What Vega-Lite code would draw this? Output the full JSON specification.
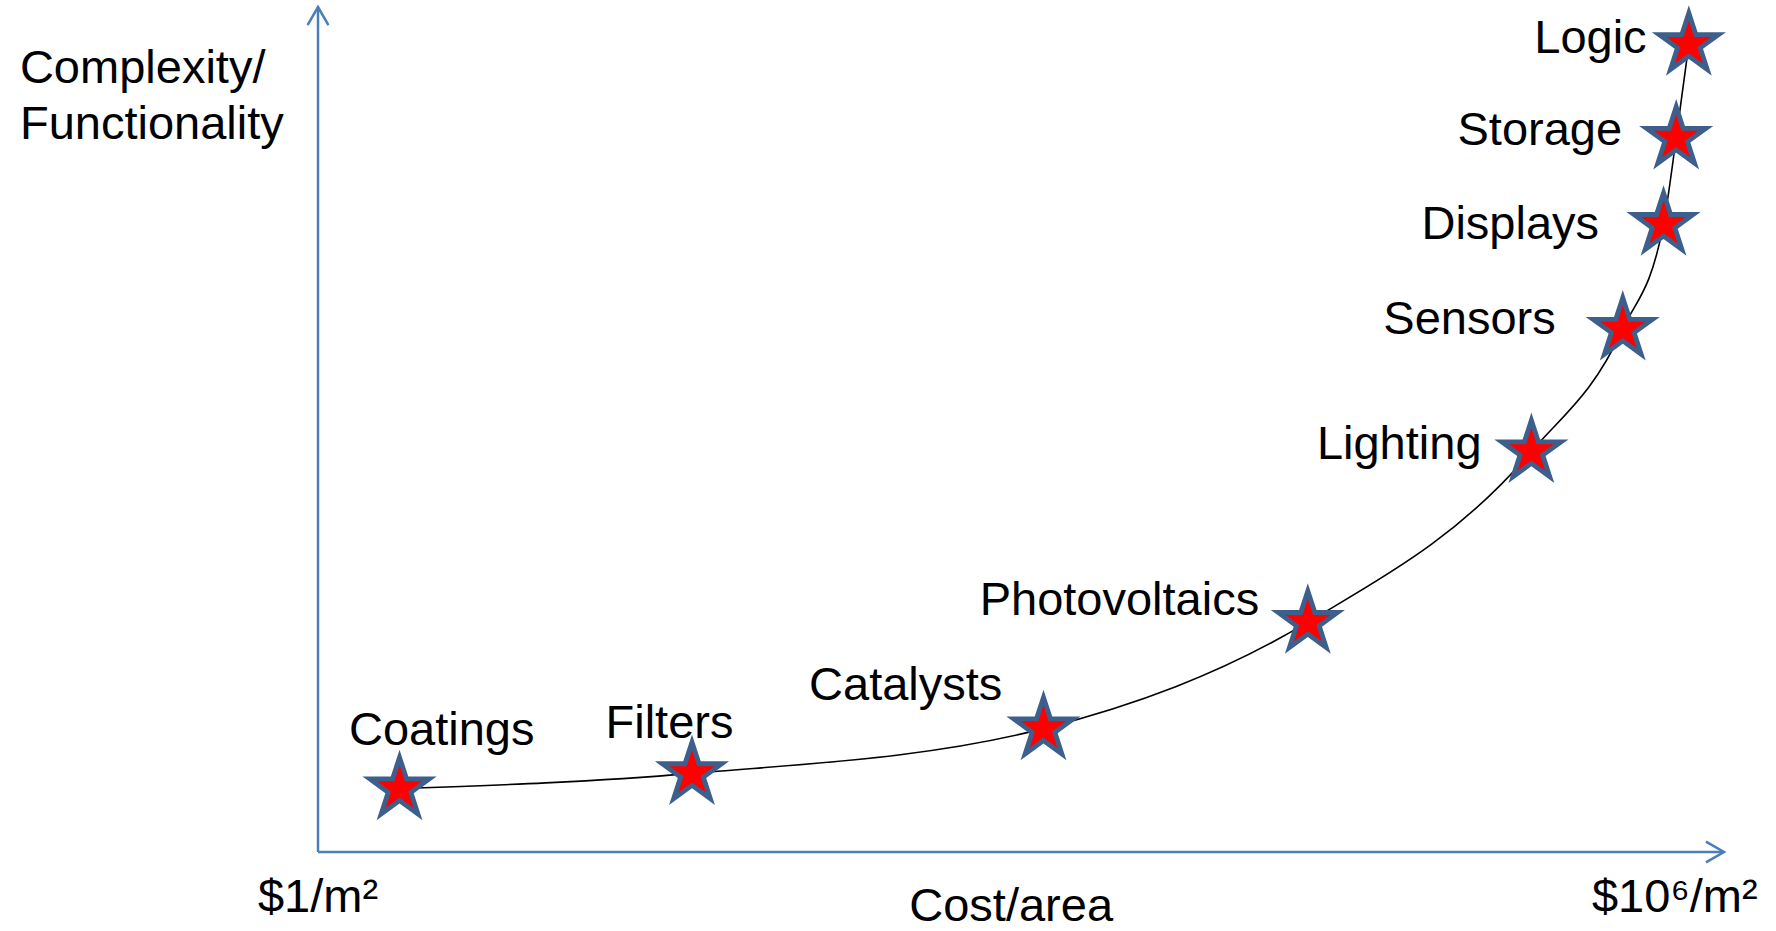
{
  "$schema": "https://vega.github.io/schema/vega-lite/v6.json",
  "width": 1776,
  "height": 931,
  "autosize": {"type": "none"},
  "padding": 0,
  "background": "white",
  "config": {
    "view": {"stroke": null},
    "text": {"font": "Liberation Sans", "fontSize": 47, "color": "#000000"}
  },
  "datasets": {
    "applications": [
      {"app": "Coatings", "cost": 5.8, "complexity": 7.5, "labelCost": 8.8, "labelComplexity": 12.7},
      {"app": "Filters", "cost": 26.6, "complexity": 9.3, "labelCost": 25.0, "labelComplexity": 13.5},
      {"app": "Catalysts", "cost": 51.6, "complexity": 14.6, "labelCost": 41.8, "labelComplexity": 18.0},
      {"app": "Photovoltaics", "cost": 70.4, "complexity": 27.2, "labelCost": 57.0, "labelComplexity": 28.0},
      {"app": "Lighting", "cost": 86.3, "complexity": 47.4, "labelCost": 76.9, "labelComplexity": 46.5},
      {"app": "Sensors", "cost": 92.8, "complexity": 61.9, "labelCost": 81.9, "labelComplexity": 61.3},
      {"app": "Displays", "cost": 95.7, "complexity": 74.3, "labelCost": 84.8, "labelComplexity": 72.5},
      {"app": "Storage", "cost": 96.6, "complexity": 84.5, "labelCost": 86.9, "labelComplexity": 83.7},
      {"app": "Logic", "cost": 97.5, "complexity": 95.6, "labelCost": 90.5, "labelComplexity": 94.6}
    ],
    "axes": [
      {"axis": "cost", "x": 0, "y": 0, "x2": 100, "y2": 0},
      {"axis": "complexity", "x": 0, "y": 0, "x2": 0, "y2": 100}
    ],
    "captions": [
      {"text": "$1/m²", "x": 0, "y": -7.1},
      {"text": "Cost/area", "x": 49.3, "y": -8.2},
      {"text": "$10⁶/m²", "x": 96.5, "y": -7.1}
    ],
    "yTitle": [
      {"text": "Complexity/", "x": -21.2, "y": 91.0},
      {"text": "Functionality", "x": -21.2, "y": 84.4}
    ]
  },
  "layer": [
    {
      "data": {"name": "axes"},
      "mark": {"type": "rule", "stroke": "#4A7EBB", "strokeWidth": 2.5},
      "encoding": {
        "x": {"field": "x", "type": "quantitative", "scale": {"domain": [0, 100], "range": [318, 1724], "nice": false, "zero": false}, "axis": null},
        "y": {"field": "y", "type": "quantitative", "scale": {"domain": [0, 100], "range": [852, 7], "nice": false, "zero": false}, "axis": null},
        "x2": {"field": "x2"},
        "y2": {"field": "y2"}
      }
    },
    {
      "data": {"name": "axes"},
      "mark": {"type": "point", "filled": false, "stroke": "#4A7EBB", "strokeWidth": 2.5, "size": 1444, "opacity": 1},
      "encoding": {
        "x": {"field": "x2", "type": "quantitative"},
        "y": {"field": "y2", "type": "quantitative"},
        "shape": {
          "field": "axis",
          "type": "nominal",
          "scale": {"domain": ["cost", "complexity"], "range": ["M-0.95,-0.55L0,0L-0.95,0.55", "M-0.55,0.95L0,0L0.55,0.95"]},
          "legend": null
        }
      }
    },
    {
      "data": {"name": "applications"},
      "mark": {"type": "line", "stroke": "#000000", "strokeWidth": 1.6, "interpolate": "monotone"},
      "encoding": {
        "x": {"field": "cost", "type": "quantitative"},
        "y": {"field": "complexity", "type": "quantitative"},
        "order": {"field": "cost"}
      }
    },
    {
      "data": {"name": "applications"},
      "mark": {
        "type": "point",
        "filled": true,
        "fill": "#3D5F8B",
        "opacity": 1,
        "size": 6084,
        "shape": "M0,-1L0.2245,-0.309L0.9511,-0.309L0.3633,0.118L0.5878,0.809L0,0.382L-0.5878,0.809L-0.3633,0.118L-0.9511,-0.309L-0.2245,-0.309Z"
      },
      "encoding": {
        "x": {"field": "cost", "type": "quantitative"},
        "y": {"field": "complexity", "type": "quantitative"}
      }
    },
    {
      "data": {"name": "applications"},
      "mark": {
        "type": "point",
        "filled": true,
        "fill": "#FF0000",
        "opacity": 1,
        "size": 2209,
        "shape": "M0,-1L0.2245,-0.309L0.9511,-0.309L0.3633,0.118L0.5878,0.809L0,0.382L-0.5878,0.809L-0.3633,0.118L-0.9511,-0.309L-0.2245,-0.309Z"
      },
      "encoding": {
        "x": {"field": "cost", "type": "quantitative"},
        "y": {"field": "complexity", "type": "quantitative"}
      }
    },
    {
      "data": {"name": "applications"},
      "mark": {"type": "text", "align": "center", "baseline": "alphabetic"},
      "encoding": {
        "x": {"field": "labelCost", "type": "quantitative"},
        "y": {"field": "labelComplexity", "type": "quantitative"},
        "text": {"field": "app"}
      }
    },
    {
      "data": {"name": "captions"},
      "mark": {"type": "text", "align": "center", "baseline": "alphabetic"},
      "encoding": {
        "x": {"field": "x", "type": "quantitative"},
        "y": {"field": "y", "type": "quantitative"},
        "text": {"field": "text"}
      }
    },
    {
      "data": {"name": "yTitle"},
      "mark": {"type": "text", "align": "left", "baseline": "alphabetic"},
      "encoding": {
        "x": {"field": "x", "type": "quantitative"},
        "y": {"field": "y", "type": "quantitative"},
        "text": {"field": "text"}
      }
    }
  ]
}
